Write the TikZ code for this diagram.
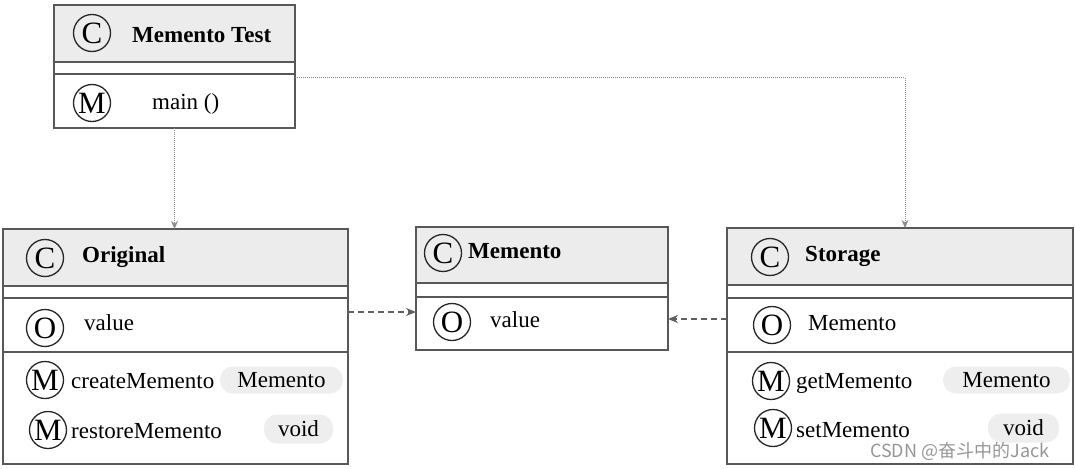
\documentclass[tikz,border=0pt]{standalone}
\usepackage{fontspec}
\setmainfont{Liberation Serif}
\newfontfamily\cjkfont{Noto Sans CJK SC}
\usetikzlibrary{arrows.meta}
\definecolor{linec}{RGB}{88,88,88}
\definecolor{hdrc}{RGB}{236,236,236}
\definecolor{pillc}{RGB}{238,238,238}
\definecolor{dotc}{RGB}{140,140,140}
\definecolor{dashc}{RGB}{95,95,95}
\definecolor{wmc}{RGB}{150,150,150}
\begin{document}
\begin{tikzpicture}[x=1pt,y=-1pt,
  classbox/.style={draw=linec,line width=1.6pt,inner sep=0pt,outer sep=0pt,anchor=north west},
  hdrfill/.style={fill=hdrc},
  divider/.style={draw=linec,line width=1.6pt},
  icon/.style={circle,draw=black!85,line width=1.3pt,minimum size=37pt,inner sep=0pt,font=\fontsize{31}{31}\selectfont},
  lbl/.style={anchor=base west,inner sep=0pt,font=\fontsize{23}{27}\selectfont},
  ttl/.style={anchor=base west,inner sep=0pt,font=\fontsize{23}{27}\selectfont\bfseries},
  pill/.style={fill=pillc,rounded corners=13pt,inner sep=0pt,text height=15.5pt,text depth=0pt,font=\fontsize{23}{27}\selectfont},
  dotconn/.style={draw=dotc,line width=1pt,densely dotted,-{Stealth[length=8pt,width=7pt]}},
  dashconn/.style={draw=dashc,line width=1.3pt,dash pattern=on 6pt off 4pt,-{Stealth[length=10pt,width=8pt]}}
]
\useasboundingbox (0,0) rectangle (1075,468);

% ---------- Memento Test ----------
\fill[hdrfill] (54,5) rectangle (295,62);
\node[classbox,minimum width=241pt,minimum height=123pt] (mt) at (54,5) {};
\draw[divider] (54,62) -- (295,62);
\draw[divider] (54,74) -- (295,74);
\node[icon] (mtc) at (92,33) {C};
\node[ttl] (mtt) at (132,43) {Memento Test};
\node[icon] (mtm) at (92,103) {M};
\node[lbl] (mtmain) at (152,110) {main ()};

% ---------- Original ----------
\fill[hdrfill] (3,229) rectangle (348,286);
\node[classbox,minimum width=345pt,minimum height=235pt] (orig) at (3,229) {};
\draw[divider] (3,286) -- (348,286);
\draw[divider] (3,298) -- (348,298);
\draw[divider] (3,352) -- (348,352);
\node[icon] (oc) at (45,258) {C};
\node[ttl] (ot) at (82,262) {Original};
\node[icon] (oo) at (45,328) {O};
\node[lbl] (ov) at (84,330) {value};
\node[icon] (om1) at (45,380) {M};
\node[lbl] (ocm) at (71,388) {createMemento};
\node[pill,minimum width=123pt,minimum height=27pt] (op1) at (281.5,380) {Memento};
\node[icon] (om2) at (48,430) {M};
\node[lbl] (orm) at (71,438) {restoreMemento};
\node[pill,minimum width=69pt,minimum height=29pt] (op2) at (298.5,429) {void};

% ---------- Memento ----------
\fill[hdrfill] (416,227) rectangle (668,283);
\node[classbox,minimum width=252pt,minimum height=123pt] (mem) at (416,227) {};
\draw[divider] (416,283) -- (668,283);
\draw[divider] (416,297) -- (668,297);
\node[icon] (mc) at (443,253) {C};
\node[ttl] (mtl) at (468,258) {Memento};
\node[icon] (mo) at (452,322) {O};
\node[lbl] (mv) at (490,327) {value};

% ---------- Storage ----------
\fill[hdrfill] (727,228) rectangle (1073,285);
\node[classbox,minimum width=346pt,minimum height=236pt] (st) at (727,228) {};
\draw[divider] (727,285) -- (1073,285);
\draw[divider] (727,298) -- (1073,298);
\draw[divider] (727,352) -- (1073,352);
\node[icon] (sc) at (770,257) {C};
\node[ttl] (stt) at (805,261) {Storage};
\node[icon] (so) at (772,325) {O};
\node[lbl] (sm) at (808,330) {Memento};
\node[icon] (sm1) at (771,381) {M};
\node[lbl] (sgm) at (796,388) {getMemento};
\node[pill,minimum width=127pt,minimum height=27pt] (sp1) at (1006.5,380) {Memento};
\node[icon] (sm2) at (773,428) {M};
\node[lbl] (ssm) at (796,437) {setMemento};
\node[pill,minimum width=71pt,minimum height=29pt] (sp2) at (1023.5,428) {void};

% ---------- connectors ----------
\draw[dotconn] (mt.south) -- (mt.south |- orig.north);
\draw[dotconn] ([yshift=-11.5pt]mt.east) -| ([xshift=5pt]st.north);
\draw[dashconn] ([yshift=34.5pt]orig.east) -- ([yshift=34.5pt]orig.east -| mem.west);
\draw[dashconn] ([yshift=27pt]st.west) -- ([yshift=27pt]st.west -| mem.east);

% ---------- watermark ----------
\node[anchor=base west,inner sep=0pt,text=wmc,font=\cjkfont\fontsize{18}{21}\selectfont] (wm) at (870,457) {CSDN @奋斗中的Jack};
\end{tikzpicture}
\end{document}
